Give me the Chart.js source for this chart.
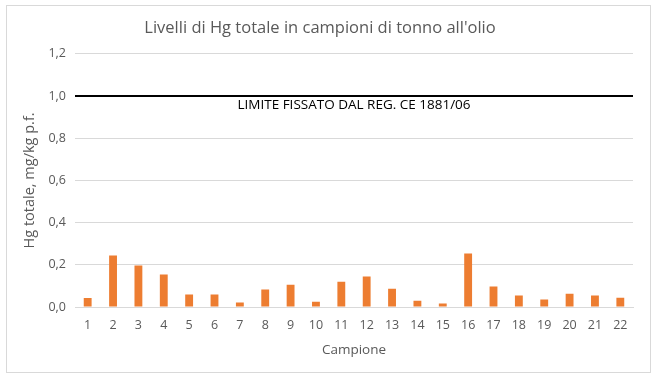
<!DOCTYPE html>
<html>
<head>
<meta charset="utf-8">
<script src="https://cdn.jsdelivr.net/npm/chart.js@4/dist/chart.umd.min.js"></script>
<style>
  html, body { margin: 0; padding: 0; background: #fff; }
  #box {
    position: absolute; left: 6px; top: 5px;
    width: 643px; height: 366px;
    border: 1px solid #d9d9d9;
  }
</style>
</head>
<body>
<div id="box"><canvas id="myChart" width="643" height="366"></canvas></div>
<script>
var campioni = ['1','2','3','4','5','6','7','8','9','10','11','12','13','14','15','16','17','18','19','20','21','22'];
var hgTotale = [0.043, 0.244, 0.197, 0.154, 0.059, 0.059, 0.021, 0.083, 0.106, 0.025, 0.120,
                0.144, 0.087, 0.030, 0.016, 0.254, 0.097, 0.054, 0.035, 0.063, 0.054, 0.044];
var limite = 1.0;
var limiteLabel = 'LIMITE FISSATO DAL REG. CE 1881/06';
var yTicks = [0, 0.2, 0.4, 0.6, 0.8, 1.0, 1.2];

var fontName = "'Open Sans', sans-serif";
var grigio = '#595959';

// linea del limite, larga quanto l'area del grafico
var limitePlugin = {
    id: 'limite',
    afterDatasetsDraw: function(chart) {
        var ctx = chart.ctx;
        var area = chart.chartArea;
        var y = chart.scales.y.getPixelForValue(limite);
        ctx.save();
        ctx.strokeStyle = '#000';
        ctx.lineWidth = 2;
        ctx.beginPath();
        ctx.moveTo(area.left, y);
        ctx.lineTo(area.right, y);
        ctx.stroke();
        ctx.fillStyle = '#000';
        ctx.font = '13.5px ' + fontName;
        ctx.textAlign = 'center';
        ctx.textBaseline = 'middle';
        ctx.fillText(limiteLabel, (area.left + area.right) / 2, y + 9);
        ctx.restore();
    }
};

var myChartElement = document.getElementById('myChart');

var myChart = new Chart(myChartElement, {
    type: 'bar',
    data: {
        labels: campioni,
        datasets: [{
            label: 'Hg totale',
            data: hgTotale,
            backgroundColor: '#ed7d31',
            barPercentage: 0.62,
            categoryPercentage: 0.5
        }]
    },
    options: {
        responsive: false,
        animation: false,
        layout: { padding: { left: 0, right: 17, top: 0, bottom: 0 } },
        plugins: {
            legend: { display: false },
            tooltip: { enabled: false },
            title: {
                display: true,
                text: "Livelli di Hg totale in campioni di tonno all'olio",
                color: grigio,
                font: { family: fontName, size: 16.5, weight: 'normal' },
                padding: { top: 12, bottom: 16 }
            }
        },
        scales: {
            x: {
                grid: { display: false, drawTicks: false },
                border: { color: '#d9d9d9' },
                ticks: { color: grigio, font: { family: fontName, size: 12.5 }, padding: 11 },
                title: {
                    display: true, text: 'Campione', color: grigio,
                    font: { family: fontName, size: 13.5 }, padding: { top: 4, bottom: 14 }
                },
                afterFit: function(s) { s.height = 65; }
            },
            y: {
                min: 0, max: 1.2,
                afterBuildTicks: function(s) {
                    s.ticks = yTicks.map(function(v) { return { value: v }; });
                },
                grid: { color: '#d9d9d9', drawTicks: false },
                border: { display: false },
                ticks: {
                    color: grigio, font: { family: fontName, size: 12.5 }, padding: 9,
                    callback: function(v) { return v.toFixed(1).replace('.', ','); }
                },
                title: {
                    display: true, text: 'Hg totale, mg/kg p.f.', color: grigio,
                    font: { family: fontName, size: 14.5 }, padding: { top: 14, bottom: 0 }
                },
                afterFit: function(s) { s.width = 68; }
            }
        }
    },
    plugins: [limitePlugin]
});
</script>
</body>
</html>
